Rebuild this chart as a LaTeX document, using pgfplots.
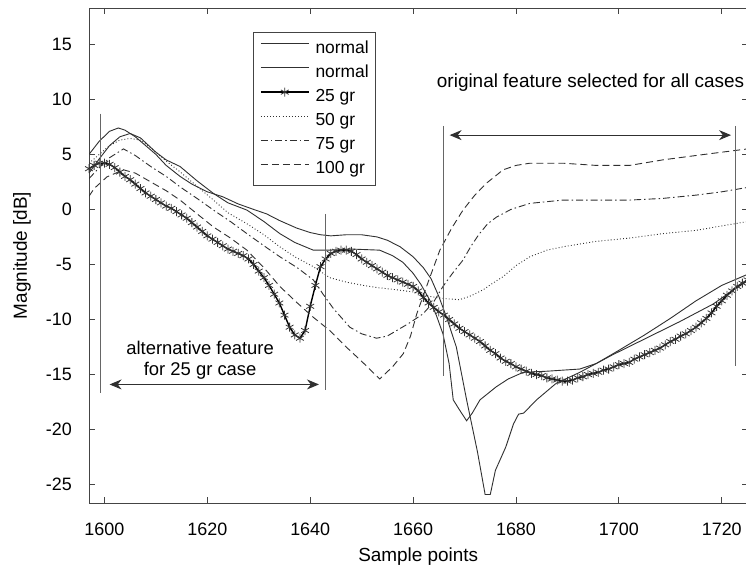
\documentclass[border=0pt]{standalone}
\usepackage{pgfplots}
\pgfplotsset{compat=1.18}
\usetikzlibrary{arrows.meta}
\usepackage{fontspec}
\setmainfont{Liberation Sans}
\definecolor{ln}{HTML}{303030}
\definecolor{ax}{HTML}{444444}
\definecolor{an}{HTML}{666666}
\begin{document}
\begin{tikzpicture}
\useasboundingbox (0,0) rectangle (746bp,571bp);
\begin{axis}[
  at={(89bp,68bp)}, anchor=south west,
  scale only axis, width=658.5bp, height=495bp,
  xmin=1597, xmax=1725, ymin=-26.67, ymax=18.3,
  xtick={1600,1620,...,1720}, ytick={-25,-20,...,15},
  tick align=inside, major tick length=6bp,
  axis line style={ax, line width=0.9bp},
  every tick/.style={ax, line width=0.8bp},
  /pgf/number format/assume math mode=true,
  /pgf/number format/set thousands separator={},
  font=\fontsize{19}{22}\selectfont,
  tick label style={font=\fontsize{18}{21}\selectfont},
  xticklabel style={anchor=north, inner sep=0pt, yshift=-20bp},
  yticklabel style={anchor=east, inner sep=0pt, xshift=-17bp},
  xlabel={Sample points}, ylabel={Magnitude [dB]},
  every axis x label/.style={at={(axis description cs:0.5,-0.108)}, anchor=center},
  every axis y label/.style={at={(axis description cs:-0.1017,0.5)}, rotate=90, anchor=center},
  legend style={at={(0.2486,0.951)}, anchor=north west, draw=ax, line width=0.8bp,
    inner xsep=7bp, inner ysep=7bp, column sep=6bp, row sep=6bp,
    nodes={inner sep=0pt, text height=13.5bp, text depth=4.5bp},
    font=\fontsize{17.5}{21}\selectfont},
  legend cell align=left,
  legend image code/.code={\draw[#1, mark repeat=2, mark phase=2] plot coordinates {(0bp,5bp) (24bp,5bp) (48bp,5bp)};},
  clip mode=individual,
]
% normal (min -26)
\addplot[ln, line width=0.9bp] coordinates {
(1597,5.0)(1599,6.2)(1601,7.1)(1602.7,7.4)(1604,7.2)(1606,6.6)(1608,5.8)(1610,5.0)(1612,4.0)
(1614.7,3.0)(1617,2.3)(1620,1.6)(1623,1.15)(1626,0.5)(1629,0.0)(1631.5,-0.4)(1634,-1.0)
(1637.4,-1.7)(1640,-2.1)(1642,-2.3)(1644,-2.4)(1647,-2.3)(1650,-2.3)(1653,-2.5)(1655,-2.8)
(1657.5,-3.4)(1660,-4.3)(1662,-5.3)(1663.5,-6.3)(1665,-7.9)(1666.5,-9.8)(1668.4,-12.5)
(1670.4,-17.3)(1672.5,-22.0)(1674,-25.9)(1675,-25.9)(1676,-23.7)(1678,-21.6)(1679.5,-19.5)
(1680.5,-18.6)(1681.5,-18.5)(1684,-17.3)(1687.8,-15.8)(1692.4,-14.8)(1698.8,-13.2)
(1705.3,-11.7)(1711.8,-10.2)(1718.3,-8.6)(1722,-7.4)(1725,-6.5)};
\addlegendentry{normal}
% normal (min -19)
\addplot[ln, line width=0.9bp] coordinates {
(1597,3.3)(1599,4.6)(1601,5.8)(1603,6.6)(1605,6.9)(1607,6.5)(1610,5.2)(1612,4.5)(1614.7,3.9)
(1618,2.6)(1621.2,1.45)(1624,0.6)(1627.7,-0.06)(1631,-1.1)(1634.1,-2.2)(1637,-3.0)(1640.6,-3.7)
(1643.8,-3.7)(1648,-3.6)(1653.5,-3.7)(1656,-4.2)(1658,-4.8)(1660,-5.8)(1661.5,-6.8)(1663.2,-8.2)
(1664.5,-9.6)(1665.8,-11.3)(1667,-14.0)(1667.8,-17.3)(1669,-18.2)(1670.4,-19.2)(1671.5,-18.5)
(1673,-17.3)(1676.2,-16.1)(1678.5,-15.4)(1681.4,-14.8)(1685.9,-14.7)(1692.4,-14.5)(1695.6,-14.0)
(1700,-12.8)(1705,-11.4)(1710,-9.9)(1715,-8.3)(1720,-6.9)(1725,-5.9)};
\addlegendentry{normal}
% 25 gr
\addplot[black, line width=1.4bp, mark=asterisk, mark size=4.5bp, mark options={line width=0.8bp, draw=black!80}] coordinates {
(1597,3.7)(1598,4.0)(1599,4.2)(1600,4.2)(1601,4.1)(1602,3.8)(1603,3.4)(1604,3.0)(1605,2.7)
(1606,2.3)(1607,1.9)(1608,1.5)(1609,1.2)(1610,0.9)(1611,0.6)(1612,0.3)(1613,0.1)(1614,-0.2)
(1615,-0.5)(1616,-0.8)(1617,-1.2)(1618,-1.6)(1619,-2.0)(1620,-2.4)(1621,-2.7)(1622,-3.0)
(1623,-3.3)(1624,-3.6)(1625,-3.8)(1626,-4.0)(1627,-4.2)(1628,-4.5)(1629,-5.0)(1630,-5.6)
(1631,-6.2)(1632,-6.9)(1633,-7.7)(1634,-8.5)(1635,-9.6)(1636,-10.7)(1637,-11.4)(1638,-11.7)
(1639,-11.0)(1640,-8.8)(1641,-6.9)(1642,-5.2)(1643,-4.5)(1644,-4.0)(1645,-3.8)(1646,-3.7)
(1647,-3.7)(1648,-3.8)(1649,-4.1)(1650,-4.5)(1651,-4.8)(1652,-5.1)(1653,-5.4)(1654,-5.7)
(1655,-6.0)(1656,-6.2)(1657,-6.4)(1658,-6.6)(1659,-6.8)(1660,-7.0)(1661,-7.4)(1662,-8.0)
(1663,-8.5)(1664,-8.9)(1665,-9.3)(1666,-9.6)(1667,-10.0)(1668,-10.4)(1669,-10.8)(1670,-11.1)
(1671,-11.4)(1672,-11.7)(1673,-12.0)(1674,-12.4)(1675,-12.8)(1676,-13.1)(1677,-13.5)
(1678,-13.8)(1679,-14.0)(1680,-14.3)(1681,-14.5)(1682,-14.7)(1683,-14.9)(1684,-15.0)
(1685,-15.1)(1686,-15.3)(1687,-15.4)(1688,-15.5)(1689,-15.6)(1690,-15.6)(1691,-15.5)
(1692,-15.3)(1693,-15.2)(1694,-15.0)(1695,-14.9)(1696,-14.8)(1697,-14.6)(1698,-14.5)
(1699,-14.3)(1700,-14.1)(1701,-14.0)(1702,-13.9)(1703,-13.6)(1704,-13.4)(1705,-13.2)
(1706,-13.0)(1707,-12.8)(1708,-12.6)(1709,-12.3)(1710,-12.0)(1711,-11.8)(1712,-11.5)
(1713,-11.3)(1714,-11.0)(1715,-10.7)(1716,-10.3)(1717,-9.9)(1718,-9.4)(1719,-8.8)(1720,-8.3)
(1721,-7.8)(1722,-7.4)(1723,-7.0)(1724,-6.7)(1725,-6.4)};
\addlegendentry{25 gr}
% 50 gr
\addplot[ln, line width=0.9bp, dash pattern=on 0.9bp off 2.2bp] coordinates {
(1597,4.2)(1599,5.0)(1601,5.8)(1603,6.3)(1605,6.45)(1607,6.3)(1609,5.6)(1612,4.4)(1615,3.3)
(1618,2.1)(1621.2,0.85)(1624,-0.3)(1627.7,-1.3)(1631,-2.3)(1634.1,-3.4)(1637,-4.3)(1640.6,-5.2)
(1643.8,-6.2)(1647,-6.6)(1650.3,-6.9)(1653,-7.1)(1656.8,-7.3)(1660,-7.5)(1663.2,-7.9)(1666,-8.1)
(1669,-8.2)(1671,-7.9)(1673.6,-7.3)(1675.5,-6.7)(1677.5,-6.1)(1680,-5.1)(1682.7,-4.3)(1686,-3.7)
(1689.1,-3.4)(1695.6,-2.9)(1702.1,-2.6)(1708.5,-2.2)(1715,-1.9)(1720,-1.5)(1725,-1.1)};
\addlegendentry{50 gr}
% 75 gr
\addplot[ln, line width=0.9bp, dash pattern=on 7bp off 3bp on 1.5bp off 3bp] coordinates {
(1597,2.8)(1599,3.8)(1601,4.7)(1603.7,5.5)(1606,4.9)(1609,3.9)(1612,3.0)(1614.7,2.05)(1618,1.0)
(1621.2,-0.06)(1624.5,-1.1)(1627.7,-2.2)(1631,-3.3)(1634.1,-4.3)(1637.5,-5.3)(1640.6,-6.4)
(1642.5,-7.7)(1644.5,-9.0)(1647.7,-10.7)(1650,-11.3)(1652.9,-11.7)(1655,-11.5)(1656.8,-11.0)
(1659,-10.4)(1661.9,-9.5)(1664,-8.4)(1665.8,-7.0)(1667.5,-5.9)(1669.7,-4.6)(1671.3,-3.3)
(1672.9,-2.2)(1674.5,-1.3)(1676.2,-0.7)(1679,0.0)(1682.7,0.55)(1689.1,0.85)(1695,0.85)
(1702.1,0.85)(1708.5,1.0)(1715,1.3)(1720,1.6)(1725,2.0)};
\addlegendentry{75 gr}
% 100 gr
\addplot[ln, line width=0.9bp, dash pattern=on 7bp off 4bp] coordinates {
(1597,1.2)(1598,1.9)(1600.5,2.96)(1603.7,3.6)(1606,3.3)(1609,2.5)(1612,1.7)(1614.7,0.85)
(1618,-0.4)(1621.2,-1.6)(1624.5,-2.6)(1627.7,-3.7)(1631,-5.3)(1634.1,-7.0)(1637.5,-8.5)
(1640.6,-9.8)(1643.8,-11.0)(1647,-12.5)(1650,-13.8)(1653.5,-15.4)(1656,-14.3)(1658.1,-13.1)
(1659.5,-11.5)(1660.7,-9.5)(1663,-6.5)(1665.2,-3.7)(1667.5,-1.7)(1669.7,-0.06)(1672,1.3)
(1674.3,2.4)(1677.5,3.6)(1680,4.0)(1682.7,4.2)(1689.1,4.2)(1695.6,4.0)(1702.1,4.0)(1708.5,4.5)
(1715,4.9)(1720,5.2)(1725,5.5)};
\addlegendentry{100 gr}
% annotations
\draw[an, line width=1bp] (axis cs:1599.2,8.7) -- (axis cs:1599.2,-16.7);
\draw[an, line width=1bp] (axis cs:1643,-0.4) -- (axis cs:1643,-16.4);
\draw[an, line width=1bp] (axis cs:1666,7.6) -- (axis cs:1666,-15.1);
\draw[an, line width=1bp] (axis cs:1722.7,7.6) -- (axis cs:1722.7,-14.2);
\draw[ln, line width=1bp, {Stealth[length=12bp,width=10bp]}-{Stealth[length=12bp,width=10bp]}] (axis cs:1601,-15.9) -- (axis cs:1641.7,-15.9);
\draw[ln, line width=1bp, {Stealth[length=12bp,width=10bp]}-{Stealth[length=12bp,width=10bp]}] (axis cs:1667.1,6.75) -- (axis cs:1721.8,6.75);
\node[align=center, inner sep=0pt, font=\fontsize{18.5}{21}\selectfont] at (axis cs:1618.6,-13.7) {alternative feature\\for 25 gr case};
\node[anchor=west, inner sep=0pt, font=\fontsize{19}{22}\selectfont] at (axis cs:1664.6,11.5) {original feature selected for all cases};
\end{axis}
\end{tikzpicture}
\end{document}
